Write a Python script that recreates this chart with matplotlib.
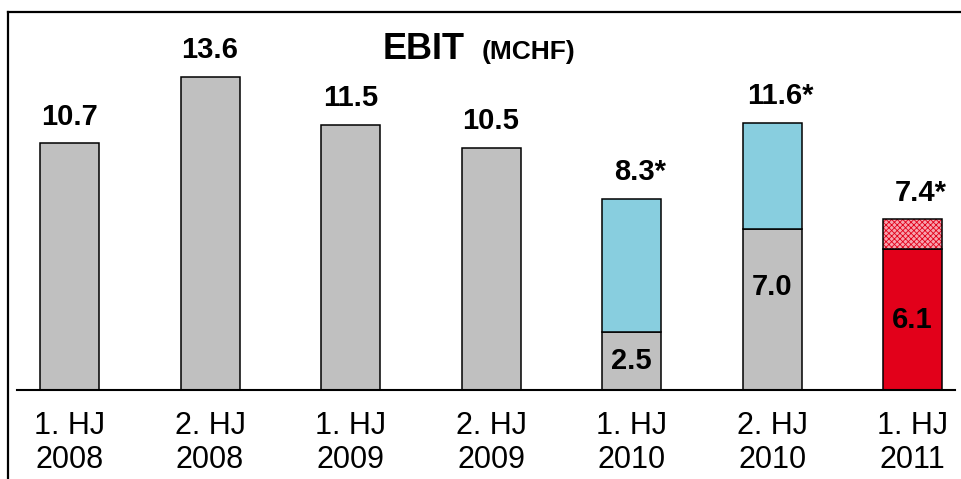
import matplotlib
matplotlib.use("Agg")
import matplotlib.pyplot as plt
from matplotlib.lines import Line2D

plt.rcParams['font.family'] = ['Liberation Sans', 'DejaVu Sans']

# ---- data ----
periods = ["1. HJ\n2008", "2. HJ\n2008", "1. HJ\n2009", "2. HJ\n2009",
           "1. HJ\n2010", "2. HJ\n2010", "1. HJ\n2011"]
ebit_total = [10.7, 13.6, 11.5, 10.5, 8.3, 11.6, 7.4]
total_labels = ["10.7", "13.6", "11.5", "10.5", "8.3*", "11.6*", "7.4*"]
base_gray = [10.7, 13.6, 11.5, 10.5, 2.5, 7.0, 0.0]
base_red = [0, 0, 0, 0, 0, 0, 6.1]
inner_labels = {4: "2.5", 5: "7.0", 6: "6.1"}

W, H = 962, 479
fig = plt.figure(figsize=(W / 100, H / 100), dpi=100)
ax = fig.add_axes([17 / W, 89 / H, (955 - 17) / W, (390 - 12) / H])

x = list(range(len(periods)))
bw = 0.42
gray = "#C0C0C0"
cyan = "#88CEDF"
red = "#E2001A"
pink = "#F6A3AE"

plt.rcParams['hatch.linewidth'] = 0.6
for i in x:
    g = base_gray[i]
    r = base_red[i]
    tot = ebit_total[i]
    if g > 0:
        ax.bar(i, g, width=bw, color=gray, edgecolor="black", linewidth=1.1, zorder=2)
    if r > 0:
        ax.bar(i, r, width=bw, color=red, edgecolor="black", linewidth=1.1, zorder=2)
    bottom = g + r
    rest = tot - bottom
    if rest > 1e-9:
        if r > 0:
            ax.bar(i, rest, bottom=bottom, width=bw, color=pink, edgecolor=red,
                   hatch="xxxxxx", linewidth=0, zorder=2)
            ax.bar(i, rest, bottom=bottom, width=bw, fill=False,
                   edgecolor="black", linewidth=1.1, zorder=3)
        else:
            ax.bar(i, rest, bottom=bottom, width=bw, color=cyan,
                   edgecolor="black", linewidth=1.1, zorder=2)
    # total label
    lab = total_labels[i]
    dx = 6 if lab.endswith("*") else 0
    ax.annotate(lab, (i, tot), xytext=(dx, 9), textcoords="offset points",
                ha="center", va="bottom", fontsize=21, fontweight="bold")

for i, lab in inner_labels.items():
    seg = base_gray[i] + base_red[i]
    frac = 0.64 if i == 5 else 0.5
    ax.text(i, seg * frac, lab,
            ha="center", va="center", fontsize=21, fontweight="bold", zorder=4)

ax.set_xlim(-0.374, 6.302)
ax.set_ylim(0, 378 / 23.05)
ax.set_xticks(x)
ax.set_xticklabels(periods, fontsize=22, linespacing=1.2)
ax.tick_params(axis="x", length=0, pad=15)
ax.set_yticks([])
for s in ["top", "right", "left"]:
    ax.spines[s].set_visible(False)
ax.spines["bottom"].set_linewidth(1.5)
ax.patch.set_alpha(0)

# title
fig.text(383 / W, 1 - 59 / H, "EBIT", fontsize=26, fontweight="bold",
         ha="left", va="baseline")
fig.text(482 / W, 1 - 59 / H, "(MCHF)", fontsize=19, fontweight="bold",
         ha="left", va="baseline")

# frame lines
fig.add_artist(Line2D([8 / W, 1], [1 - 12 / H, 1 - 12 / H],
                      transform=fig.transFigure, color="black", lw=1.6))
fig.add_artist(Line2D([8 / W, 8 / W], [0, 1 - 12 / H],
                      transform=fig.transFigure, color="black", lw=1.6))

fig.savefig("out.png", dpi=100)
